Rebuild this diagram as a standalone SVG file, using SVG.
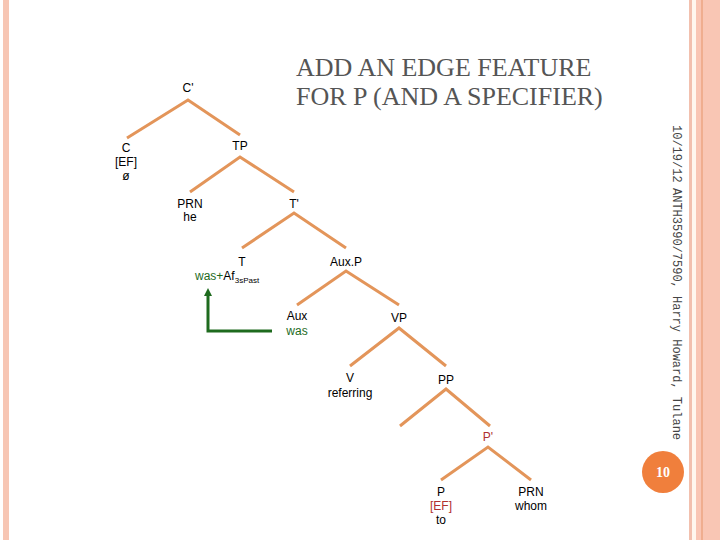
<svg xmlns="http://www.w3.org/2000/svg" width="720" height="540" viewBox="0 0 720 540">
<style>
.l{stroke:#e3955a;stroke-width:3;fill:none}
.t{font-family:"Liberation Sans",Arial,sans-serif;font-size:12px;fill:#000;text-anchor:middle}
.r{fill:#b03030}
.g{fill:#1e6b1e}
.h{font-family:"Liberation Serif",serif;font-size:26px;fill:#555}
.v{font-family:"Liberation Mono",monospace;font-size:12px;fill:#444}
</style>
<defs><marker id="ga" markerWidth="8" markerHeight="8" refX="4" refY="4" orient="auto" markerUnits="userSpaceOnUse"><path d="M0,0 L8,4 L0,8 z" fill="#1e6b1e"/></marker></defs>
<rect width="720" height="540" fill="#fff"/>
<rect x="3" y="0" width="6" height="540" fill="#f7c6b4"/>
<rect x="689" y="0" width="3" height="540" fill="#f2c0ae"/>
<rect x="692" y="0" width="4" height="540" fill="#fff7ee"/>
<rect x="696" y="0" width="24" height="540" fill="#f9c6b4"/>
<line x1="702" y1="0" x2="702" y2="540" stroke="#e6956a" stroke-width="1"/>
<text class="h" x="296" y="76">ADD AN EDGE FEATURE</text>
<text class="h" x="296" y="105">FOR P (AND A SPECIFIER)</text>
<text class="v" transform="translate(673,125) rotate(90)">10/19/12</text>
<text class="v" transform="translate(673,188) rotate(90)">ANTH3590/7590, Harry Howard, Tulane</text>
<circle cx="663" cy="472" r="21" fill="#f07f3c"/>
<text x="663" y="477" font-family="Liberation Serif,serif" font-weight="bold" font-size="14" fill="#fff" text-anchor="middle">10</text>
<g id="connectors">
<path class="l" d="M127,138 L188,100 L240,135"/>
<path class="l" d="M190,192 L240,157 L294,192"/>
<path class="l" d="M242,248 L294,213 L346,248"/>
<path class="l" d="M297,305 L346,271 L399,305"/>
<path class="l" d="M350,366 L399,328 L446,366"/>
<path class="l" d="M400,426 L446,389 L490,426"/>
<path class="l" d="M441,480 L488,447 L531,480"/>
<path d="M272,331 L208,331 L208,292" stroke="#1e6b1e" stroke-width="3" fill="none" marker-end="url(#ga)"/>
</g>
<g id="n-cbar"><text class="t" x="188" y="92">C'</text></g>
<g id="n-c"><text class="t" x="126" y="152">C</text><text class="t" x="126" y="166">[EF]</text><text class="t" x="126" y="180">ø</text></g>
<g id="n-tp"><text class="t" x="240" y="150">TP</text></g>
<g id="n-prn"><text class="t" x="190" y="208">PRN</text><text class="t" x="190" y="221">he</text></g>
<g id="n-tbar"><text class="t" x="294" y="208">T'</text></g>
<g id="n-t"><text class="t" x="242" y="266">T</text><text x="195" y="280" font-family="Liberation Sans,Arial,sans-serif" font-size="12"><tspan class="g">was+</tspan><tspan>Af</tspan><tspan font-size="8" dy="3">3sPast</tspan></text></g>
<g id="n-auxp"><text class="t" x="346" y="266">Aux.P</text></g>
<g id="n-aux"><text class="t" x="297" y="320">Aux</text><text class="t g" x="297" y="335">was</text></g>
<g id="n-vp"><text class="t" x="399" y="322">VP</text></g>
<g id="n-v"><text class="t" x="350" y="382">V</text><text class="t" x="350" y="397">referring</text></g>
<g id="n-pp"><text class="t" x="446" y="384">PP</text></g>
<g id="n-pbar"><text class="t r" x="488" y="441">P'</text></g>
<g id="n-p"><text class="t" x="441" y="496">P</text><text class="t r" x="441" y="510">[EF]</text><text class="t" x="441" y="524">to</text></g>
<g id="n-prn2"><text class="t" x="531" y="496">PRN</text><text class="t" x="531" y="510">whom</text></g>
</svg>
